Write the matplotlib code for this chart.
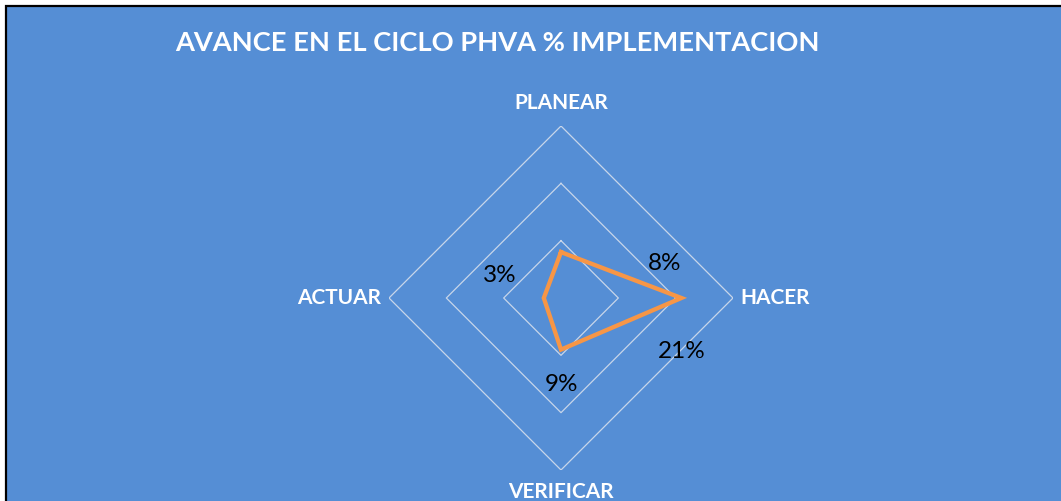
import numpy as np
import matplotlib
matplotlib.use("Agg")
import matplotlib.pyplot as plt
from matplotlib.patches import Rectangle

# Data
categories = ["PLANEAR", "HACER", "VERIFICAR", "ACTUAR"]
values = [0.08, 0.21, 0.09, 0.03]
value_labels = ["8%", "21%", "9%", "3%"]
ring_levels = [0.1, 0.2, 0.3]
title = "AVANCE EN EL CICLO PHVA % IMPLEMENTACION"

BLUE = "#558ed5"
ORANGE = "#f79646"
GRID = "#c8d6ea"

W, H = 1061, 501
fig = plt.figure(figsize=(W / 100, H / 100), dpi=100)
fig.patch.set_facecolor("white")
fig.patches.append(Rectangle((6 / W, -0.02), 1.2, (H - 6) / H + 0.02,
                             transform=fig.transFigure, facecolor=BLUE,
                             edgecolor="black", linewidth=1.6, zorder=-5))

cx, cy, R = 561, 298, 172
ax = fig.add_axes([(cx - R) / W, (H - cy - R) / H, 2 * R / W, 2 * R / H],
                  projection="polar")
ax.set_zorder(2)
ax.set_facecolor("none")
ax.set_theta_zero_location("N")
ax.set_theta_direction(-1)
ax.set_ylim(0, 0.3)
ax.grid(False)
ax.spines["polar"].set_visible(False)
ax.set_xticks([])
ax.set_yticks([])

n = len(categories)
theta = np.arange(n) * 2 * np.pi / n
theta_closed = np.append(theta, theta[0])

for lvl in ring_levels:
    ax.plot(theta_closed, [lvl] * (n + 1), color=GRID, lw=0.9, zorder=1)

vals_closed = np.append(values, values[0])
ax.plot(theta_closed, vals_closed, color=ORANGE, lw=3.1, zorder=3,
        solid_joinstyle="miter")

# category labels
px = 0.72
lab_font = dict(color="white", fontsize=15, fontweight="bold", family="Lato")
ax.annotate(categories[0], (theta[0], 0.3), xytext=(0, 23 * px), textcoords="offset points",
            ha="center", va="center", **lab_font)
ax.annotate(categories[1], (theta[1], 0.3), xytext=(7 * px, 0), textcoords="offset points",
            ha="left", va="center", **lab_font)
ax.annotate(categories[2], (theta[2], 0.3), xytext=(0, -22 * px), textcoords="offset points",
            ha="center", va="center", **lab_font)
ax.annotate(categories[3], (theta[3], 0.3), xytext=(-8 * px, 0), textcoords="offset points",
            ha="right", va="center", **lab_font)

# value labels
offsets_px = [(104, -11), (0, -53), (0, -35), (-44, 23)]
for t, v, lab, (dx, dy) in zip(theta, values, value_labels, offsets_px):
    ax.annotate(lab, (t, v), xytext=(dx * px, dy * px), textcoords="offset points",
                ha="center", va="center", color="black", fontsize=17.5, family="Lato")

fig.text(497 / W, (H - 43) / H, title, color="white", fontsize=19.6,
         fontweight="bold", family="Lato", ha="center", va="center")

fig.savefig("out.png", dpi=100, facecolor=fig.get_facecolor())
